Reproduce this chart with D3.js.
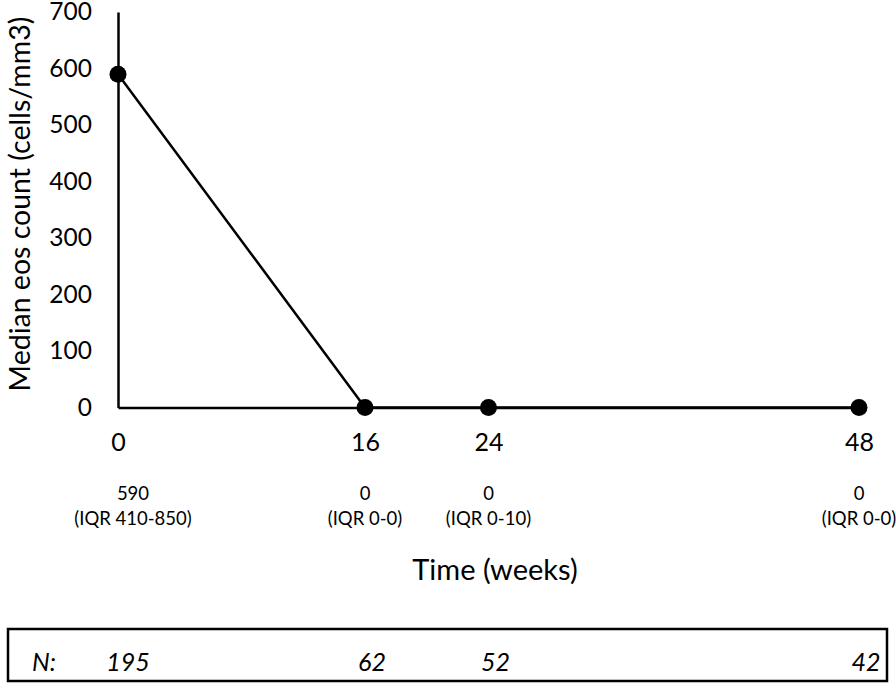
<!DOCTYPE html>
<html>
<head>
<meta charset="utf-8">
<script src="https://cdnjs.cloudflare.com/ajax/libs/d3/7.8.5/d3.min.js"></script>
<style>
  body { margin: 0; background: #fff; }
  svg { font-family: Lato, "Open Sans", sans-serif; }
</style>
</head>
<body>
<div id="chart"></div>
<script>
var weeks = [0, 16, 24, 48];
var medians = [590, 0, 0, 0];
var iqrLabels = ["(IQR 410-850)", "(IQR 0-0)", "(IQR 0-10)", "(IQR 0-0)"];
var nCounts = [195, 62, 52, 42];
var yTicks = [0, 100, 200, 300, 400, 500, 600, 700];

function init(){
    var w = 896;
    var h = 685;

    var xScale = d3.scaleLinear().domain([0, 48]).range([118, 859]);
    var yScale = d3.scaleLinear().domain([0, 700]).range([407.5, 12]);

    var svg = d3.select("#chart")
                .append("svg")
                .attr("width", w)
                .attr("height", h);

    // y axis
    var yAxis = d3.axisLeft(yScale).tickValues(yTicks).tickSize(0).tickPadding(26);
    var gy = svg.append("g")
        .attr("transform", "translate(118,0)")
        .call(yAxis);
    gy.select(".domain").attr("stroke", "#000").attr("stroke-width", 2.5);
    gy.selectAll("text").attr("font-size", 24.5).attr("font-family", "Lato").attr("fill", "#000");

    // x axis
    var xAxis = d3.axisBottom(xScale).tickValues(weeks).tickSize(0).tickPadding(26);
    var gx = svg.append("g")
        .attr("transform", "translate(0,407.5)")
        .call(xAxis);
    gx.select(".domain").attr("stroke", "#000").attr("stroke-width", 2.5);
    gx.selectAll("text").attr("font-size", 25).attr("font-family", "Lato").attr("fill", "#000");

    // line + points
    var line = d3.line()
        .x(function(d, i){ return xScale(weeks[i]); })
        .y(function(d){ return yScale(d); });

    svg.append("path")
        .datum(medians)
        .attr("d", line)
        .attr("fill", "none")
        .attr("stroke", "#000")
        .attr("stroke-width", 2.5);

    svg.selectAll("circle")
        .data(medians)
        .enter()
        .append("circle")
        .attr("cx", function(d, i){ return xScale(weeks[i]); })
        .attr("cy", function(d){ return yScale(d); })
        .attr("r", 8.5)
        .attr("fill", "#000");

    // median / IQR labels under ticks
    var subX = function(d, i){ return xScale(weeks[i]) + (i === 0 ? 15 : 0); };
    var sub = svg.selectAll(".sub")
        .data(medians)
        .enter()
        .append("text")
        .attr("class", "sub")
        .attr("text-anchor", "middle")
        .attr("font-size", 18.5)
        .attr("fill", "#000")
        .attr("x", subX);
    sub.append("tspan")
        .attr("y", 500)
        .text(function(d){ return d; });
    sub.append("tspan")
        .attr("y", 525)
        .attr("x", subX)
        .text(function(d, i){ return iqrLabels[i]; });

    // x title
    svg.append("text")
        .attr("x", 495)
        .attr("y", 580)
        .attr("text-anchor", "middle")
        .attr("font-size", 29)
        .text("Time (weeks)");

    // y title
    svg.append("text")
        .attr("transform", "translate(30,204) rotate(-90)")
        .attr("text-anchor", "middle")
        .attr("font-size", 28.5)
        .text("Median eos count (cells/mm3)");

    // N box
    svg.append("rect")
        .attr("x", 8)
        .attr("y", 629)
        .attr("width", 879)
        .attr("height", 52)
        .attr("fill", "none")
        .attr("stroke", "#000")
        .attr("stroke-width", 2.5);

    svg.append("text")
        .attr("x", 32)
        .attr("y", 671)
        .attr("font-size", 25)
        .attr("font-style", "italic")
        .text("N:");

    svg.selectAll(".ncount")
        .data(nCounts)
        .enter()
        .append("text")
        .attr("class", "ncount")
        .attr("x", function(d, i){ return xScale(weeks[i]) + (i === 0 ? 10 : 7); })
        .attr("y", 671)
        .attr("text-anchor", "middle")
        .attr("font-size", 25)
        .attr("font-style", "italic")
        .text(function(d){ return d; });
}
window.onload = init;
</script>
</body>
</html>
